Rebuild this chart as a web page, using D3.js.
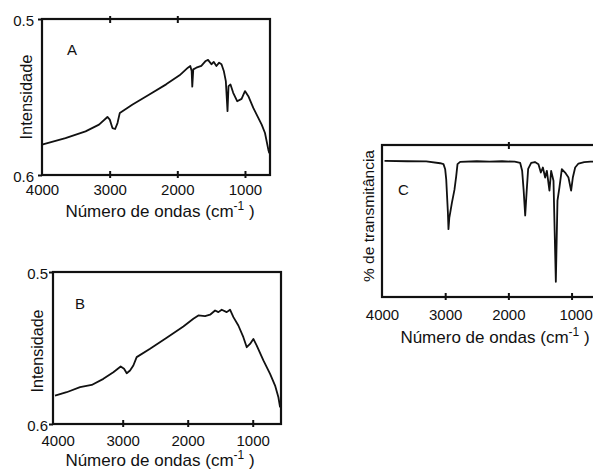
<!DOCTYPE html>
<html><head><meta charset="utf-8">
<script src="https://cdn.jsdelivr.net/npm/d3@7"></script>
<style>
body{margin:0;background:#fff}
svg{display:block}
text{font-family:"Liberation Sans",Arial,Helvetica,sans-serif;fill:#111}
</style>
</head><body>
<svg id="chart" width="593" height="471"></svg>
<script>
// ---------- DATA ----------
// Panel A (intensity vs wavenumber)
const waveA = [4000,3653,3356,3157,3033,2998,2959,2919,2884,2850,2661,2413,2165,1967,1843,1808,1788,1779,1764,1719,1645,1580,1546,1496,1461,1422,1382,1347,1313,1283,1258,1243,1214,1174,1115,1050,1000,950,877,803,753,704,654,640];
const intA  = [0.5806,0.5763,0.572,0.5677,0.5628,0.5645,0.5699,0.5705,0.5667,0.5602,0.5548,0.5484,0.5419,0.5361,0.5312,0.5301,0.5333,0.5434,0.5323,0.5312,0.5301,0.5269,0.5262,0.529,0.5275,0.5301,0.528,0.529,0.5333,0.5398,0.5591,0.543,0.542,0.5473,0.5527,0.5512,0.5462,0.5495,0.557,0.5634,0.5677,0.5731,0.5839,0.586];
// Panel B
const waveB = [4041,3862,3656,3477,3297,3144,3031,2979,2938,2887,2836,2785,2579,2323,2067,1913,1836,1733,1656,1579,1528,1477,1400,1349,1297,1221,1144,1092,1041,990,938,836,733,656,605,579];
const intB  = [0.5813,0.5791,0.5758,0.5743,0.5703,0.5659,0.5622,0.5637,0.5666,0.5648,0.5615,0.556,0.5505,0.5433,0.5358,0.5308,0.5286,0.529,0.5281,0.5253,0.5264,0.5248,0.5264,0.5248,0.5297,0.5352,0.5429,0.5495,0.5473,0.544,0.5484,0.5582,0.567,0.5747,0.5824,0.589];
// Panel C (% transmittance)
const waveC = [3960,3600,3300,3079,3027,3000,2984,2957,2948,2935,2921,2894,2853,2826,2805,2763,2500,2300,2100,1900,1813,1782,1758,1734,1710,1687,1639,1580,1524,1486,1454,1418,1391,1350,1323,1286,1249,1223,1192,1154,1102,1049,1007,980,943,891,800,700,600,550];
const transC = [89.6,89.3,89.2,88,87.4,84,77.6,55.4,44.6,52,55.4,61.9,70.6,79.3,87.4,88.9,89.3,89.0,89.3,89.0,88.2,83,70,53.6,70,84.3,88.2,88.8,87.4,81.9,85.2,78.6,83,70,83,76.5,10,63.4,72.1,84.1,81.9,78.6,70,78.6,85.2,87.8,88.8,89.1,89.1,89.1];

const xTickLabels = [4000,3000,2000,1000];
const yTicksAB = [0.5,0.6];
const xTitle = "Número de ondas (cm";
const xTitleSup = "-1";
const yTitleAB = "Intensidade";
const yTitleC = "% de transmitância";

// ---------- DRAW ----------
const svg = d3.select("#chart");
svg.append("rect").attr("width",593).attr("height",471).attr("fill","#fff");

function panel(o){
  const x = d3.scaleLinear().domain(o.xDomain).range([o.left,o.right]);
  const y = d3.scaleLinear().domain(o.yDomain).range(o.yRange);
  const g = svg.append("g");

  // curve
  const line = d3.line().x(d=>x(d[0])).y(d=>y(d[1]));
  g.append("path").datum(d3.zip(o.waves,o.vals))
    .attr("d",line).attr("fill","none").attr("stroke","#111")
    .attr("stroke-width",1.8).attr("stroke-linejoin","round");

  // frame
  g.append("rect").attr("x",o.left).attr("y",o.top)
    .attr("width",o.right-o.left).attr("height",o.bottom-o.top)
    .attr("fill","none").attr("stroke","#111").attr("stroke-width",2.2);

  // bottom axis
  const ax = g.append("g").attr("transform",`translate(0,${o.bottom})`)
    .call(d3.axisBottom(x).tickValues(xTickLabels).tickFormat(d3.format("d")));
  ax.select(".domain").remove();
  ax.selectAll(".tick line").attr("y1",-4).attr("y2",3)
    .attr("stroke","#111").attr("stroke-width",2)
    .attr("display",d=>d===4000?"none":null);
  ax.selectAll(".tick text").attr("y",o.tickY-o.bottom).attr("dy",0)
    .attr("font-size",15).attr("font-family",null).attr("fill","#111")
    .attr("dx",d=>(o.lastDx && d===1000)?o.lastDx:0);

  // top ticks
  if(o.topTicks.length){
    const at = g.append("g").attr("transform",`translate(0,${o.top})`)
      .call(d3.axisTop(x).tickValues(o.topTicks).tickFormat(""));
    at.select(".domain").remove();
    at.selectAll(".tick line").attr("y1",-3).attr("y2",4)
      .attr("stroke","#111").attr("stroke-width",2);
  }

  // left axis
  if(o.yTicks.length){
    const ay = g.append("g").attr("transform",`translate(${o.left},0)`)
      .call(d3.axisLeft(y).tickValues(o.yTicks).tickFormat(d3.format(".1f")));
    ay.select(".domain").remove();
    ay.selectAll(".tick line").attr("x1",-4).attr("x2",0)
      .attr("stroke","#111").attr("stroke-width",2);
    ay.selectAll(".tick text").attr("x",-o.yPad).attr("dy","0.4em")
      .attr("font-size",15).attr("font-family",null).attr("fill","#111");
  }

  // x title
  const t = g.append("text").attr("x",o.xTitleX).attr("y",o.xTitleY)
    .attr("text-anchor","middle").attr("font-size",17);
  t.append("tspan").text(xTitle);
  t.append("tspan").attr("dy",-7).attr("font-size",12).text(xTitleSup);
  t.append("tspan").attr("dy",7).text(" )");

  // y title
  g.append("text").attr("transform",`translate(${o.yTitleX},${o.yTitleY}) rotate(-90)`)
    .attr("text-anchor","middle").attr("font-size",o.yTitleSize)
    .attr("textLength",o.yTitleLen).attr("lengthAdjust","spacingAndGlyphs").text(o.yTitle);

  // letter
  g.append("text").attr("x",o.letterX).attr("y",o.letterY)
    .attr("font-size",15).text(o.letter);
}

panel({left:42,right:270,top:19,bottom:175,xDomain:[4000,630],yDomain:[0.5,0.6],yRange:[19,175],
  waves:waveA,vals:intA,topTicks:[3000,2000],yTicks:yTicksAB,yPad:8,tickY:195,
  xTitleX:160,xTitleY:217,yTitle:yTitleAB,yTitleX:32,yTitleY:97,yTitleSize:16,yTitleLen:85,
  letter:"A",letterX:67,letterY:55});

panel({left:53,right:281,top:272,bottom:424,xDomain:[4072,565],yDomain:[0.5,0.6],yRange:[272,424],
  waves:waveB,vals:intB,topTicks:[],yTicks:yTicksAB,yPad:5,tickY:446,
  xTitleX:160,xTitleY:466,yTitle:yTitleAB,yTitleX:43,yTitleY:351,yTitleSize:16,yTitleLen:83,
  letter:"B",letterX:75,letterY:309});

panel({left:382,right:600,top:145,bottom:297,xDomain:[4000,550],yDomain:[0,100],yRange:[297,145],
  waves:waveC,vals:transC,topTicks:[2000],yTicks:[],yPad:5,tickY:320,lastDx:4,
  xTitleX:495,xTitleY:343,yTitle:yTitleC,yTitleX:374,yTitleY:216,yTitleSize:15.5,yTitleLen:132,
  letter:"C",letterX:398,letterY:195});
</script>
</body></html>
